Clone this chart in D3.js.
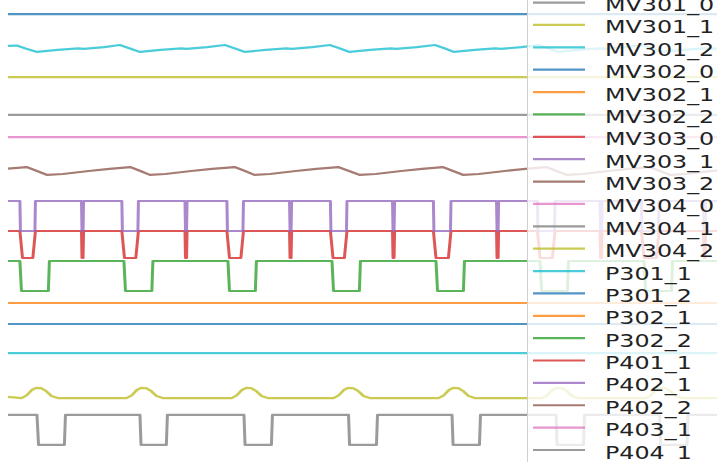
<!DOCTYPE html>
<html>
<head>
<meta charset="utf-8">
<script src="https://cdn.jsdelivr.net/npm/d3@7"></script>
<style>
	html, body { margin: 0; padding: 0; background: #ffffff; }
</style>
</head>
<body>
<div class="chart"></div>
<script>
/*  ======== Data ============= */
var tab10 = ['#1f77b4','#ff7f0e','#2ca02c','#d62728','#9467bd','#8c564b','#e377c2','#7f7f7f','#bcbd22','#17becf'];

// legend entries (first one is cut off by the top edge)
var legendNames = ['MV301_0','MV301_1','MV301_2','MV302_0','MV302_1','MV302_2','MV303_0','MV303_1','MV303_2',
	'MV304_0','MV304_1','MV304_2','P301_1','P301_2','P302_1','P302_2','P401_1','P402_1','P402_2','P403_1','P404_1'];
var legendColors = [7,8,9,0,1,2,3,4,5,6,7,8,9,0,1,2,3,4,5,6,7];

// traces, [sample, stacked value], drawn bottom first
var traceColors = [7,8,9,0,1,2,3,4,5,6,7,8,9,0];

var grayWave = [[0,1.57],[5.6,1.57],[5.9,0.57],[10.9,0.57],[11.1,1.57],[25.5,1.57],[25.7,0.57],[30.6,0.57],[30.8,1.57],
	[45.6,1.57],[45.8,0.57],[50.9,0.57],[51.1,1.57],[65.8,1.57],[66.0,0.57],[71.2,0.57],[71.4,1.57],
	[85.8,1.57],[86.0,0.57],[91.1,0.57],[91.3,1.57],[105.9,1.57],[106.1,0.57],[111.2,0.57],[111.4,1.57],
	[125.9,1.57],[126.1,0.57],[131.2,0.57],[131.4,1.57],[137,1.57]];
var oliveBumps = [[0,2.17],[2.6,2.13],[3.6,2.22],[4.6,2.40],[5.4,2.47],[6.4,2.46],[7.4,2.36],[8.4,2.20],[9.6,2.13],
	[22.9,2.13],[23.9,2.22],[24.9,2.40],[25.7,2.47],[26.7,2.46],[27.7,2.36],[28.7,2.20],[29.9,2.13],
	[43.2,2.13],[44.2,2.22],[45.2,2.40],[46.0,2.47],[47.0,2.46],[48.0,2.36],[49.0,2.20],[50.2,2.13],
	[62.9,2.13],[63.9,2.22],[64.9,2.40],[65.7,2.47],[66.7,2.46],[67.7,2.36],[68.7,2.20],[69.9,2.13],
	[83.2,2.13],[84.2,2.22],[85.2,2.40],[86.0,2.47],[87.0,2.46],[88.0,2.36],[89.0,2.20],[90.2,2.13],
	[103.2,2.13],[104.2,2.22],[105.2,2.40],[106.0,2.47],[107.0,2.46],[108.0,2.36],[109.0,2.20],[110.2,2.13],
	[123.2,2.13],[124.2,2.22],[125.2,2.40],[126.0,2.47],[127.0,2.46],[128.0,2.36],[129.0,2.20],[130.2,2.13],[137,2.13]];
var cyanFlat = [[0,3.63],[137,3.63]];
var blueFlat = [[0,4.6],[137,4.6]];
var orangeFlat = [[0,5.3],[137,5.3]];
var greenWave = [[0,6.7],[2.3,6.7],[2.6,5.7],[7.8,5.7],[8.0,6.7],[22.4,6.7],[22.7,5.7],[27.8,5.7],[28.0,6.7],
	[42.5,6.7],[42.8,5.7],[47.8,5.7],[48.0,6.7],[62.6,6.7],[62.9,5.7],[67.9,5.7],[68.1,6.7],
	[82.7,6.7],[83.0,5.7],[88.0,5.7],[88.2,6.7],[102.8,6.7],[103.1,5.7],[108.1,5.7],[108.3,6.7],
	[122.9,6.7],[123.2,5.7],[128.2,5.7],[128.4,6.7],[137,6.7]];
var redWave = [[0,7.7],[2.3,7.7],[2.8,6.8],[4.8,6.8],[5.3,7.7],[14.2,7.7],[14.3,6.8],[14.5,6.8],[14.6,7.7],
	[22.0,7.7],[22.5,6.8],[24.7,6.8],[25.2,7.7],[34.2,7.7],[34.3,6.8],[34.5,6.8],[34.6,7.7],
	[42.3,7.7],[42.8,6.8],[45.0,6.8],[45.5,7.7],[54.4,7.7],[54.5,6.8],[54.7,6.8],[54.8,7.7],
	[62.3,7.7],[62.8,6.8],[65.0,6.8],[65.5,7.7],[74.3,7.7],[74.4,6.8],[74.6,6.8],[74.7,7.7],
	[82.2,7.7],[82.7,6.8],[85.1,6.8],[85.6,7.7],[94.4,7.7],[94.5,6.8],[94.7,6.8],[94.8,7.7],
	[102.3,7.7],[102.8,6.8],[105.2,6.8],[105.7,7.7],[114.4,7.7],[114.5,6.8],[114.7,6.8],[114.8,7.7],
	[122.4,7.7],[122.9,6.8],[125.3,6.8],[125.8,7.7],[134.4,7.7],[134.5,6.8],[134.7,6.8],[134.8,7.7],[137,7.7]];
var purpleWave = [[0,8.7],[2.3,8.7],[2.4,7.7],[5.2,7.7],[5.3,8.7],[14.2,8.7],[14.3,7.7],[14.5,7.7],[14.6,8.7],
	[22.0,8.7],[22.1,7.7],[25.1,7.7],[25.2,8.7],[34.2,8.7],[34.3,7.7],[34.5,7.7],[34.6,8.7],
	[42.3,8.7],[42.4,7.7],[45.4,7.7],[45.5,8.7],[54.4,8.7],[54.5,7.7],[54.7,7.7],[54.8,8.7],
	[62.3,8.7],[62.4,7.7],[65.4,7.7],[65.5,8.7],[74.3,8.7],[74.4,7.7],[74.6,7.7],[74.7,8.7],
	[82.2,8.7],[82.3,7.7],[85.5,7.7],[85.6,8.7],[94.4,8.7],[94.5,7.7],[94.7,7.7],[94.8,8.7],
	[102.3,8.7],[102.4,7.7],[105.6,7.7],[105.7,8.7],[114.4,8.7],[114.5,7.7],[114.7,7.7],[114.8,8.7],
	[122.4,8.7],[122.5,7.7],[125.7,7.7],[125.8,8.7],[134.4,8.7],[134.5,7.7],[134.7,7.7],[134.8,8.7],[137,8.7]];
var brownSaw = [[0,9.78],[3.6,9.83],[5.6,9.70],[7.6,9.57],[10.6,9.60],[15.6,9.70],[19.6,9.77],[23.6,9.83],
	[25.6,9.70],[27.4,9.57],[30.4,9.60],[35.4,9.70],[39.4,9.77],[43.8,9.83],
	[45.8,9.70],[47.6,9.57],[50.6,9.60],[55.6,9.70],[59.6,9.77],[63.8,9.83],
	[65.9,9.70],[68.0,9.57],[71.0,9.60],[76.0,9.70],[80.0,9.77],[84.0,9.83],
	[86.0,9.70],[88.0,9.57],[91.0,9.60],[96.0,9.70],[100.0,9.77],[104.0,9.83],
	[106.0,9.70],[108.0,9.57],[111.0,9.60],[116.0,9.70],[120.0,9.77],[124.0,9.83],
	[126.0,9.70],[128.0,9.57],[131.0,9.60],[137,9.72]];
var pinkFlat = [[0,10.83],[137,10.83]];
var grayFlat = [[0,11.57],[137,11.57]];
var oliveFlat = [[0,12.83],[137,12.83]];
var cyanSaw = [[0,13.87],[1.7,13.88],[3.4,13.78],[5.6,13.67],[9.6,13.74],[13.6,13.79],[14.6,13.77],[18.6,13.83],[21.6,13.90],
	[23.3,13.80],[25.5,13.67],[29.5,13.74],[33.5,13.79],[34.5,13.77],[38.5,13.83],[41.9,13.90],
	[43.6,13.80],[45.8,13.67],[49.8,13.74],[53.8,13.79],[54.8,13.77],[58.8,13.83],[62.2,13.90],
	[63.9,13.80],[66.0,13.67],[70.0,13.74],[74.0,13.79],[75.0,13.77],[79.0,13.83],[82.5,13.90],
	[84.2,13.80],[86.2,13.67],[90.2,13.74],[94.2,13.79],[95.2,13.77],[99.2,13.83],[102.5,13.90],
	[104.2,13.80],[106.3,13.67],[110.3,13.74],[114.3,13.79],[115.3,13.77],[119.3,13.83],[122.6,13.90],
	[124.3,13.80],[126.4,13.67],[130.4,13.74],[134.4,13.79],[137,13.78]];
var blueTop = [[0,14.93],[137,14.93]];

var traces = [grayWave, oliveBumps, cyanFlat, blueFlat, orangeFlat, greenWave, redWave, purpleWave,
	brownSaw, pinkFlat, grayFlat, oliveFlat, cyanSaw, blueTop];
/*  ======== Data ============= */

var width = 717, height = 462;
var stretch = 1.36;   // the picture is wider than it is tall in its strokes and glyphs
var svg = d3.select('.chart')
			.append('svg')
			.attr('width', width)
			.attr('height', height)
			.style('display', 'block');

// lines are drawn in an x-stretched group, so vertical strokes come out wider
var x = d3.scaleLinear().domain([0, 137]).range([8/stretch, 717/stretch]);
var y = d3.scaleLinear().domain([0, 15.4]).range([462, 0]);

var line = d3.line()
			.x(function(d){ return x(d[0]); })
			.y(function(d){ return y(d[1]); });

var plot = svg.append('g')
			.attr('transform', 'scale(' + stretch + ',1)');
for(var i = 0; i < traces.length; i++){
	plot.append('path')
		.attr('d', line(traces[i]))
		.attr('fill', 'none')
		.attr('stroke', tab10[traceColors[i]])
		.attr('stroke-opacity', 0.78)
		.attr('stroke-width', 2.2)
		.attr('stroke-linejoin', 'round');
}

// legend, partly outside the picture
var row = d3.scaleLinear().domain([0, 1]).range([2.6, 24.97]);
var legend = svg.append('g');
legend.append('rect')
		.attr('x', 527.5)
		.attr('y', -30)
		.attr('width', 260)
		.attr('height', 540)
		.attr('fill', 'white')
		.attr('fill-opacity', 0.8)
		.attr('stroke', '#cfcfcf')
		.attr('stroke-width', 1);
for(var j = 0; j < legendNames.length; j++){
	var ly = row(j);
	legend.append('line')
			.attr('x1', 533)
			.attr('x2', 585)
			.attr('y1', ly)
			.attr('y2', ly)
			.attr('stroke', tab10[legendColors[j]])
			.attr('stroke-opacity', 0.78)
			.attr('stroke-width', 2.2);
	legend.append('text')
			.attr('transform', 'translate(605,' + (ly + 8.5) + ') scale(' + stretch + ',1)')
			.attr('font-family', 'DejaVu Sans')
			.attr('font-size', 17.5)
			.attr('fill', '#222')
			.text(legendNames[j]);
}
</script>
</body>
</html>
